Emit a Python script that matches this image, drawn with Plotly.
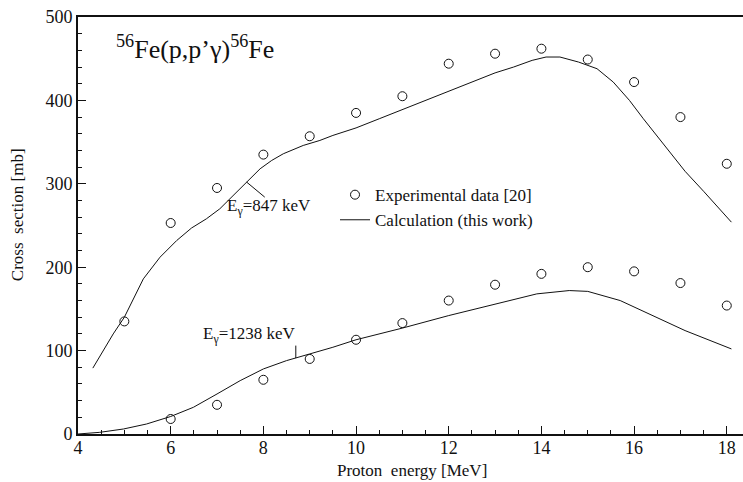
import plotly.graph_objects as go

# Experimental data [20]
energy_exp = [5, 6, 7, 8, 9, 10, 11, 12, 13, 14, 15, 16, 17, 18]
xs_847_exp = [135, 253, 295, 335, 357, 385, 405, 444, 456, 462, 449, 422, 380, 324]
energy_exp_1238 = [6, 7, 8, 9, 10, 11, 12, 13, 14, 15, 16, 17, 18]
xs_1238_exp = [18, 35, 65, 90, 113, 133, 160, 179, 192, 200, 195, 181, 154]

# Calculation (this work)
energy_calc_847 = [4.32, 4.76, 5.0, 5.23, 5.41, 5.77, 6.13, 6.45, 6.77, 7.06, 7.35, 7.64,
                   7.93, 8.18, 8.43, 8.86, 9.22, 9.5, 10.0, 10.5, 11.0, 11.5, 12.0, 12.5,
                   13.0, 13.4, 13.8, 14.1, 14.4, 14.8, 15.2, 15.55, 15.9, 16.2, 16.5,
                   16.8, 17.1, 17.5, 17.8, 18.1]
xs_847_calc = [79, 120, 140, 166, 186, 212, 232, 247, 258, 270, 286, 302,
               318, 328, 336, 346, 352, 358, 367, 378, 389, 400, 411, 422,
               433, 440, 448, 452, 452, 446, 438, 422, 400, 378, 357,
               335, 315, 291, 273, 254]
energy_calc_1238 = [4.0, 4.47, 4.98, 5.48, 6.0, 6.49, 7.0, 7.5, 8.0, 8.5, 9.0, 9.5, 10.0,
                    10.5, 11.0, 12.0, 13.0, 13.9, 14.6, 15.0, 15.7, 16.4, 17.1, 18.1]
xs_1238_calc = [0, 2, 6, 12, 21, 32, 48, 64, 78, 88, 96, 104, 113,
                120, 127, 142, 156, 168, 172, 171, 160, 142, 124, 102]

FONT = "Liberation Serif, Times New Roman, serif"
INK = "#111111"

fig = go.Figure()

fig.add_trace(go.Scatter(
    x=energy_exp, y=xs_847_exp, mode="markers", name="Experimental data [20]",
    marker=dict(symbol="circle-open", size=9, color=INK, line=dict(width=1, color=INK)),
))
fig.add_trace(go.Scatter(
    x=energy_exp_1238, y=xs_1238_exp, mode="markers", showlegend=False,
    marker=dict(symbol="circle-open", size=9, color=INK, line=dict(width=1, color=INK)),
))
fig.add_trace(go.Scatter(
    x=energy_calc_847, y=xs_847_calc, mode="lines", name="Calculation (this work)",
    line=dict(color=INK, width=1),
))
fig.add_trace(go.Scatter(
    x=energy_calc_1238, y=xs_1238_calc, mode="lines", showlegend=False,
    line=dict(color=INK, width=1),
))

# callout marks
fig.add_shape(type="line", x0=7.64, y0=302, x1=8.03, y1=284, xref="x", yref="y",
              line=dict(color=INK, width=1))
fig.add_shape(type="line", x0=8.70, y0=91, x1=8.70, y1=106, xref="x", yref="y",
              line=dict(color=INK, width=1))

fig.add_annotation(x=7.17, y=272, xref="x", yref="y", xanchor="left", yanchor="middle",
                   text="E<sub>γ</sub>=847 keV", showarrow=False,
                   font=dict(family=FONT, size=17, color=INK))
fig.add_annotation(x=6.66, y=119, xref="x", yref="y", xanchor="left", yanchor="middle",
                   text="E<sub>γ</sub>=1238 keV", showarrow=False,
                   font=dict(family=FONT, size=17, color=INK))
fig.add_annotation(x=4.78, y=464, xref="x", yref="y", xanchor="left", yanchor="middle",
                   text="<sup>56</sup>Fe(p,p’γ)<sup>56</sup>Fe", showarrow=False,
                   font=dict(family=FONT, size=26, color=INK))

# axis titles
fig.add_annotation(x=0.502, y=-0.088, xref="paper", yref="paper",
                   xanchor="center", yanchor="middle", showarrow=False,
                   text="Proton  energy [MeV]", font=dict(family=FONT, size=17, color=INK))
fig.add_annotation(x=-0.091, y=0.526, xref="paper", yref="paper",
                   xanchor="center", yanchor="middle", showarrow=False, textangle=-90,
                   text="Cross  section [mb]", font=dict(family=FONT, size=17, color=INK))

fig.update_layout(
    width=743, height=482,
    margin=dict(l=78, r=0, t=17, b=48),
    paper_bgcolor="white", plot_bgcolor="white",
    font=dict(family=FONT, size=18, color=INK),
    showlegend=True,
    legend=dict(x=(335 - 78) / 665, y=0.616, xanchor="left", yanchor="top",
                font=dict(family=FONT, size=17, color=INK),
                bgcolor="rgba(0,0,0,0)", traceorder="normal",
                itemwidth=30),
)
fig.update_xaxes(
    range=[4, 18.35], tick0=4, dtick=2, ticks="inside", ticklen=8, tickwidth=1,
    tickcolor=INK, showline=True, linewidth=2, linecolor=INK, mirror=True,
    showgrid=False, zeroline=False, ticklabelstandoff=-4,
    minor=dict(dtick=0.5, ticks="inside", ticklen=4, tickcolor=INK, tickwidth=1, showgrid=False),
    tickfont=dict(family=FONT, size=18, color=INK),
)
fig.update_yaxes(
    range=[0, 500], tick0=0, dtick=100, ticks="inside", ticklen=8, tickwidth=1,
    tickcolor=INK, showline=True, linewidth=2, linecolor=INK,
    showgrid=False, zeroline=False,
    minor=dict(dtick=20, ticks="inside", ticklen=4, tickcolor=INK, tickwidth=1, showgrid=False),
    tickfont=dict(family=FONT, size=18, color=INK),
)

fig.write_html("out.html", config={"displayModeBar": False},
               post_script="document.body.style.margin='0';")
